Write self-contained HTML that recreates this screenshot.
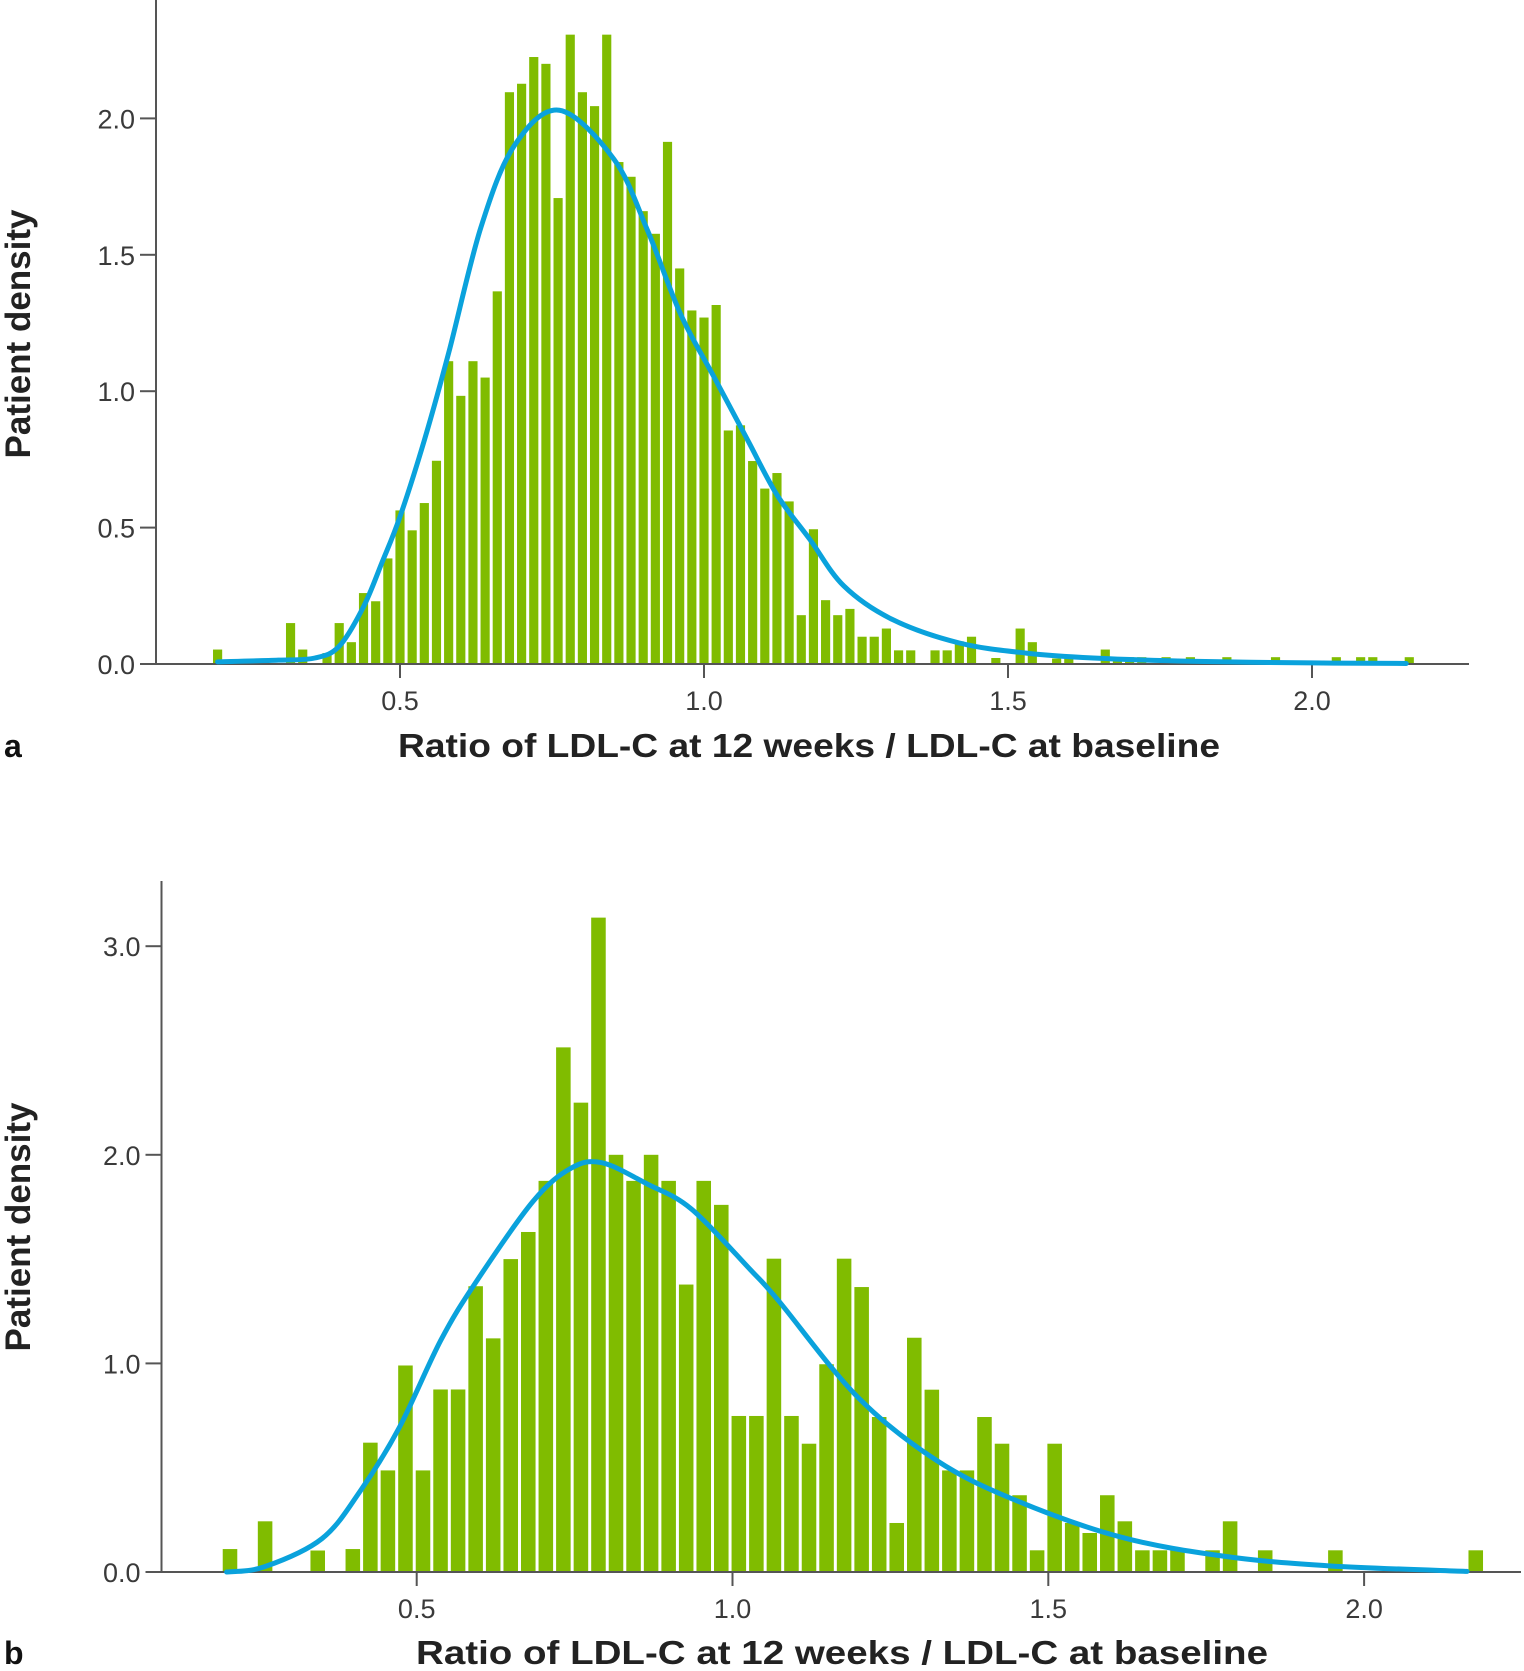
<!DOCTYPE html>
<html><head><meta charset="utf-8"><style>
html,body{margin:0;padding:0;background:#fff;}
svg{display:block;font-family:"Liberation Sans",Arial,sans-serif;}
</style></head><body>
<svg id="chart" width="1524" height="1671" viewBox="0 0 1524 1671" xmlns="http://www.w3.org/2000/svg">
<g id="pa"></g>
<g id="pb"></g>
</svg>
<script>
// Panel A data (bin width 0.02, centers)
const aBinCenters = [0.20,0.32,0.34,0.38,0.40,0.42,0.44,0.46,0.48,0.50,0.52,0.54,0.56,0.58,0.60,0.62,0.64,0.66,0.68,0.70,0.72,0.74,0.76,0.78,0.80,0.82,0.84,0.86,0.88,0.90,0.92,0.94,0.96,0.98,1.00,1.02,1.04,1.06,1.08,1.10,1.12,1.14,1.16,1.18,1.20,1.22,1.24,1.26,1.28,1.30,1.32,1.34,1.38,1.40,1.42,1.44,1.48,1.52,1.54,1.58,1.60,1.66,1.68,1.70,1.72,1.76,1.80,1.86,1.94,2.04,2.08,2.10,2.16];
const aDensity = [0.053,0.15,0.053,0.04,0.15,0.08,0.26,0.23,0.387,0.563,0.49,0.59,0.745,1.11,0.983,1.11,1.05,1.366,2.096,2.127,2.225,2.20,1.708,2.307,2.096,2.045,2.307,1.84,1.786,1.66,1.577,1.914,1.45,1.296,1.27,1.316,0.856,0.875,0.744,0.643,0.70,0.596,0.179,0.494,0.234,0.179,0.202,0.10,0.10,0.13,0.05,0.05,0.05,0.05,0.083,0.10,0.022,0.13,0.08,0.02,0.02,0.053,0.02,0.025,0.025,0.025,0.025,0.025,0.025,0.025,0.025,0.025,0.025];
const aCurveX = [0.20,0.30,0.36,0.40,0.44,0.47,0.50,0.54,0.58,0.633,0.688,0.762,0.852,0.907,0.962,1.017,1.072,1.12,1.174,1.23,1.31,1.42,1.53,1.64,1.80,2.0,2.155];
const aCurveY = [0.008,0.014,0.022,0.065,0.21,0.37,0.54,0.82,1.14,1.6,1.9,2.03,1.85,1.59,1.28,1.05,0.82,0.62,0.457,0.286,0.163,0.077,0.04,0.022,0.01,0.004,0.002];
const aYTicks = [0.0,0.5,1.0,1.5,2.0];
const aXTicks = [0.5,1.0,1.5,2.0];

// Panel B data (bin width 1/36, start center 0.2044)
const bBinStart = 0.2044, bBinWidth = 0.02778;
const bDensity = [0.11,0,0.243,0,0,0.103,0,0.11,0.62,0.487,0.99,0.487,0.875,0.875,1.37,1.12,1.50,1.63,1.875,2.515,2.25,3.137,2.0,1.875,2.0,1.875,1.378,1.875,1.76,0.748,0.748,1.502,0.748,0.615,0.996,1.502,1.366,0.743,0.235,1.123,0.874,0.487,0.487,0.743,0.615,0.368,0.104,0.615,0.235,0.187,0.368,0.243,0.104,0.104,0.104,0,0.104,0.243,0,0.104,0,0,0,0.104,0,0,0,0,0,0,0,0.104];
const bCurveX = [0.199,0.259,0.35,0.411,0.472,0.538,0.593,0.684,0.744,0.793,0.865,0.935,1.028,1.073,1.198,1.323,1.448,1.614,1.780,1.947,2.163];
const bCurveY = [0.0,0.025,0.16,0.39,0.69,1.11,1.386,1.776,1.935,1.962,1.86,1.74,1.45,1.30,0.839,0.535,0.344,0.168,0.075,0.029,0.003];
const bYTicks = [0.0,1.0,2.0,3.0];
const bXTicks = [0.5,1.0,1.5,2.0];

const NS = "http://www.w3.org/2000/svg";
function mk(parent, tag, attrs, text){
  const e = document.createElementNS(NS, tag);
  for (const k in attrs) e.setAttribute(k, attrs[k]);
  if (text !== undefined) e.textContent = text;
  parent.appendChild(e);
  return e;
}
function smoothPath(pts){
  let d = "M" + pts[0][0].toFixed(2) + "," + pts[0][1].toFixed(2);
  for (let i=0;i<pts.length-1;i++){
    const p0 = pts[Math.max(0,i-1)], p1 = pts[i], p2 = pts[i+1], p3 = pts[Math.min(pts.length-1,i+2)];
    const c1x = p1[0] + (p2[0]-p0[0])/6, c1y = p1[1] + (p2[1]-p0[1])/6;
    const c2x = p2[0] - (p3[0]-p1[0])/6, c2y = p2[1] - (p3[1]-p1[1])/6;
    d += " C" + c1x.toFixed(2)+","+c1y.toFixed(2)+" "+c2x.toFixed(2)+","+c2y.toFixed(2)+" "+p2[0].toFixed(2)+","+p2[1].toFixed(2);
  }
  return d;
}

function panel(g, cfg){
  const xs = v => cfg.x0px + (v - 0.5) * cfg.pxPerUnitX;
  const ys = v => cfg.y0px - v * cfg.pxPerUnitY;
  const bars = mk(g, "g", {});
  
  
  cfg.centers.forEach((c, i) => {
    const v = cfg.values[i];
    if (!v) return;
    const w = cfg.binW * cfg.pxPerUnitX;
    const r = mk(bars, "rect", {x: xs(c) - w/2 + 1.5, y: ys(v), width: w - 3, height: cfg.y0px - ys(v), fill: "#80bc00"});
    
    
  });
  const ax = mk(g, "line", {x1: cfg.axisX, y1: cfg.axisTop, x2: cfg.axisX, y2: cfg.y0px, stroke: "#555", "stroke-width": 2});
  
  
  const xa = mk(g, "line", {x1: cfg.axisX, y1: cfg.y0px, x2: cfg.axisRight, y2: cfg.y0px, stroke: "#555", "stroke-width": 2});
  
  
  cfg.yTicks.forEach(t => {
    const tk = mk(g, "line", {x1: cfg.axisX - 16, y1: ys(t), x2: cfg.axisX, y2: ys(t), stroke: "#555", "stroke-width": 2});
    
    
    const tl = mk(g, "text", {x: cfg.axisX - 21, y: ys(t) + 10, "text-anchor": "end", "font-size": 27, fill: "#3a3a3a"}, t.toFixed(1));
    
    
  });
  cfg.xTicks.forEach(t => {
    const tk = mk(g, "line", {x1: xs(t), y1: cfg.y0px, x2: xs(t), y2: cfg.y0px + 14, stroke: "#555", "stroke-width": 2});
    
    
    const tl = mk(g, "text", {x: xs(t), y: cfg.y0px + 46, "text-anchor": "middle", "font-size": 27, fill: "#3a3a3a"}, t.toFixed(1));
    
    
  });
  const pts = cfg.curveX.map((x, i) => [xs(x), ys(cfg.curveY[i])]);
  const cp = mk(g, "path", {d: smoothPath(pts), fill: "none", stroke: "#0aa2dc", "stroke-width": 5, "stroke-linecap": "round"});
  
  
  const xt = mk(g, "text", {x: cfg.xTitleX, y: cfg.xTitleY, "font-size": 33, "font-weight": "bold", fill: "#222", textLength: cfg.xTitleW, lengthAdjust: "spacingAndGlyphs"}, "Ratio of LDL-C at 12 weeks / LDL-C at baseline");
  
  
  const yt = mk(g, "text", {x: 0, y: 0, "font-size": 35, "font-weight": "bold", fill: "#222", "text-anchor": "middle", transform: "translate(" + 30 + "," + cfg.yTitleY + ") rotate(-90)"}, "Patient density");
  
  
  const pl = mk(g, "text", {x: 4, y: cfg.xTitleY, "font-size": 32, "font-weight": "bold", fill: "#111"}, cfg.letter);
  
  
}

panel(document.getElementById("pa"), {
  centers: aBinCenters, values: aDensity, binW: 0.02,
  curveX: aCurveX, curveY: aCurveY, yTicks: aYTicks, xTicks: aXTicks,
  x0px: 400, pxPerUnitX: 608, y0px: 664, pxPerUnitY: 272.8,
  axisX: 156, axisTop: 0, axisRight: 1469,
  xTitleX: 398, xTitleY: 757, xTitleW: 822, yTitleY: 334, letter: "a"
});
const bCenters = bDensity.map((v, k) => bBinStart + k * bBinWidth);
panel(document.getElementById("pb"), {
  centers: bCenters, values: bDensity, binW: bBinWidth,
  curveX: bCurveX, curveY: bCurveY, yTicks: bYTicks, xTicks: bXTicks,
  x0px: 416.7, pxPerUnitX: 631.6, y0px: 1572, pxPerUnitY: 208.6,
  axisX: 161.5, axisTop: 881, axisRight: 1521,
  xTitleX: 416, xTitleY: 1664, xTitleW: 852, yTitleY: 1227, letter: "b"
});
</script>
</body></html>
